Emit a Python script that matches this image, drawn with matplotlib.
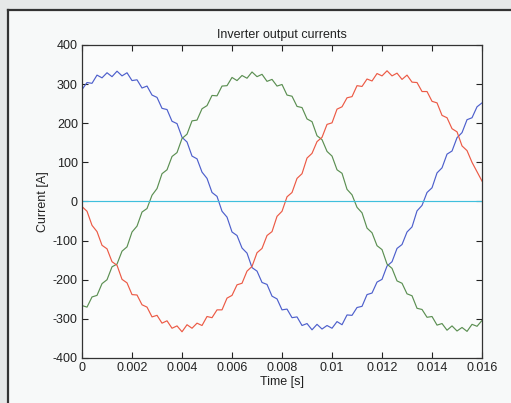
import matplotlib
matplotlib.use('Agg')
import matplotlib.pyplot as plt
from matplotlib.patches import Rectangle
from matplotlib.lines import Line2D

time_s = [i * 0.0002 for i in range(81)]

phase_blue = [286, 304, 302, 323, 316, 329, 319, 333, 321, 329,
              309, 311, 290, 295, 272, 266, 238, 235, 205, 199,
              164, 152, 116, 109, 75, 59, 23, 13, -25, -40,
              -78, -87, -119, -132, -169, -178, -207, -212, -242, -249,
              -277, -275, -297, -295, -317, -312, -328, -314, -326, -317,
              -324, -307, -315, -290, -291, -271, -268, -238, -234, -206,
              -199, -165, -154, -120, -110, -78, -65, -24, -10, 23,
              35, 73, 86, 121, 129, 163, 176, 209, 214, 242,
              252]

phase_green = [-266, -270, -244, -240, -210, -200, -167, -160, -127, -116,
               -78, -63, -27, -18, 16, 33, 71, 81, 115, 125,
               161, 172, 206, 208, 237, 245, 271, 270, 295, 296,
               317, 309, 322, 315, 331, 319, 325, 307, 312, 295,
               299, 272, 269, 243, 240, 211, 204, 168, 158, 128,
               116, 81, 72, 31, 17, -15, -29, -68, -80, -113,
               -123, -160, -171, -203, -209, -236, -241, -273, -276, -296,
               -294, -316, -312, -329, -318, -331, -322, -332, -314, -319,
               -304]

phase_red = [-13, -25, -61, -77, -112, -121, -154, -163, -199, -208,
             -238, -239, -264, -270, -295, -291, -311, -305, -324, -318,
             -333, -315, -324, -311, -317, -294, -297, -277, -277, -247,
             -240, -213, -209, -178, -166, -131, -120, -87, -77, -38,
             -25, 12, 23, 59, 71, 111, 123, 153, 164, 197,
             201, 236, 242, 265, 268, 296, 294, 313, 308, 327,
             321, 334, 321, 328, 312, 323, 305, 304, 281, 281,
             256, 252, 220, 214, 186, 178, 142, 130, 100, 76,
             52]

neutral = [0] * 81

x_ticks = [0, 0.002, 0.004, 0.006, 0.008, 0.01, 0.012, 0.014, 0.016]
x_labels = ['0', '0.002', '0.004', '0.006', '0.008', '0.01', '0.012', '0.014', '0.016']
y_ticks = [-400, -300, -200, -100, 0, 100, 200, 300, 400]

plt.rcParams['font.family'] = ['Liberation Sans', 'DejaVu Sans']
plt.rcParams['axes.unicode_minus'] = False

fig = plt.figure(figsize=(5.11, 4.03), dpi=100)
fig.patch.set_facecolor('#f7f9f9')

# scanned page margins and frame
fig.patches.append(Rectangle((0, 0.975), 1, 0.025, transform=fig.transFigure,
                             facecolor='#e6e8e8', edgecolor='none', zorder=0))
fig.patches.append(Rectangle((0, 0), 0.016, 1, transform=fig.transFigure,
                             facecolor='#e6e8e8', edgecolor='none', zorder=0))
fig.lines.append(Line2D([0.016, 1], [0.974, 0.974], transform=fig.transFigure,
                        color='#333333', linewidth=1.6))
fig.lines.append(Line2D([0.016, 0.016], [0, 0.974], transform=fig.transFigure,
                        color='#333333', linewidth=1.6))

ax = fig.add_axes([0.1605, 0.1117, 0.7828, 0.7767])
ax.set_facecolor('#fbfcfc')

ax.plot(time_s, phase_blue, color='#4d5fcc', linewidth=0.85)
ax.plot(time_s, phase_green, color='#5b8f52', linewidth=0.85)
ax.plot(time_s, phase_red, color='#ec5a45', linewidth=0.85)
ax.plot(time_s, neutral, color='#3fbfdc', linewidth=0.85)

ax.set_xlim(0, 0.016)
ax.set_ylim(-400, 400)
ax.set_xticks(x_ticks)
ax.set_xticklabels(x_labels)
ax.set_yticks(y_ticks)
ax.tick_params(direction='in', top=True, right=True, length=4, width=0.8,
               labelsize=9, colors='#222222', pad=3)
for sp in ax.spines.values():
    sp.set_color('#333333')
    sp.set_linewidth(0.9)

ax.set_title('Inverter output currents', fontsize=9, color='#222222', pad=5)
ax.set_xlabel('Time [s]', fontsize=9, color='#222222', labelpad=1)
ax.set_ylabel('Current [A]', fontsize=9, color='#222222', labelpad=3)

fig.savefig('out.png', dpi=100, facecolor=fig.get_facecolor())
